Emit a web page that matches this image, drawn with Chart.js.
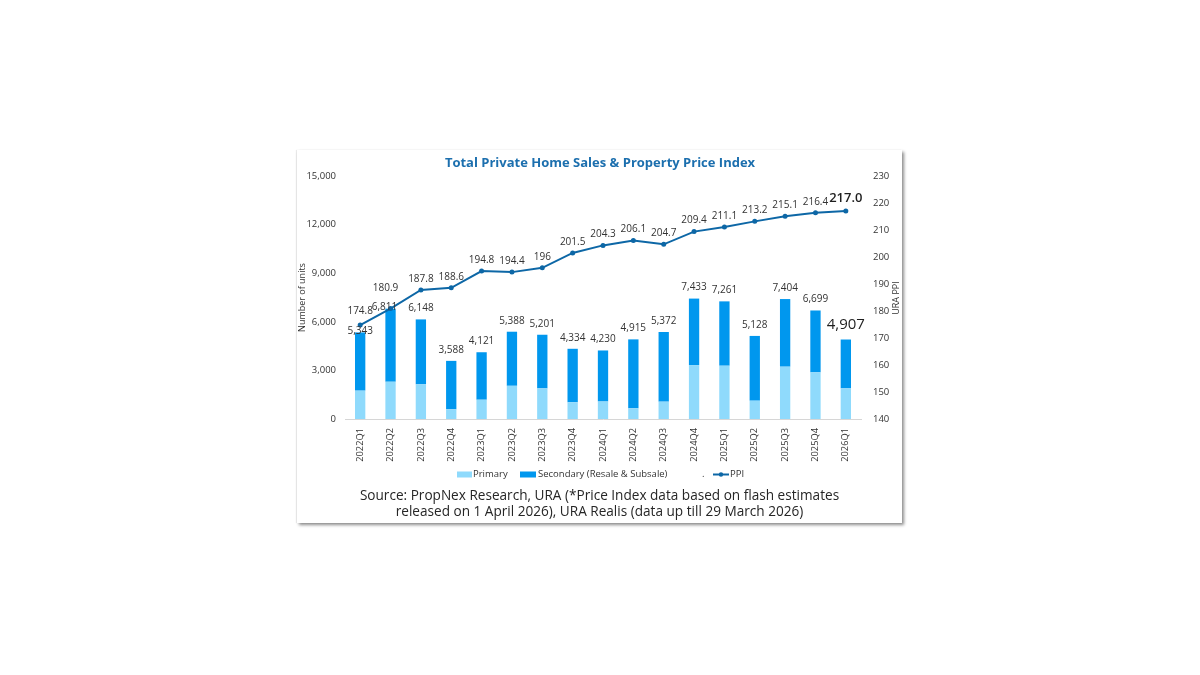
<!DOCTYPE html>
<html><head><meta charset="utf-8">
<script src="https://cdn.jsdelivr.net/npm/chart.js@4.4.1/dist/chart.umd.min.js"></script>
<style>
html,body{margin:0;padding:0;background:#fff;width:1200px;height:675px;overflow:hidden;}
#card{position:absolute;left:297px;top:150px;width:605px;height:373px;background:#fff;box-shadow:2px 2px 3px rgba(0,0,0,0.45), -1px 0 1px rgba(0,0,0,0.08);}
#c{position:absolute;left:0;top:0;}
#src{position:absolute;left:0;top:337px;width:605px;text-align:center;font-family:'Open Sans',sans-serif;font-size:13.6px;line-height:16px;color:#262626;}
</style></head><body>
<div id="card"><canvas id="c" width="605" height="373"></canvas>
<div id="src">Source: PropNex Research, URA (*Price Index data based on flash estimates<br>released on 1 April 2026), URA Realis (data up till 29 March 2026)</div></div>
<script>
const categories = ['2022Q1','2022Q2','2022Q3','2022Q4','2023Q1','2023Q2','2023Q3','2023Q4','2024Q1','2024Q2','2024Q3','2024Q4','2025Q1','2025Q2','2025Q3','2025Q4','2026Q1'];
const totalUnits = [5343,6811,6148,3588,4121,5388,5201,4334,4230,4915,5372,7433,7261,5128,7404,6699,4907];
const primaryUnits = [1750,2300,2140,600,1190,2050,1890,1030,1080,660,1070,3330,3290,1130,3230,2880,1890];
const secondaryUnits = [3593,4511,4008,2988,2931,3338,3311,3304,3150,4255,4302,4103,3971,3998,4174,3819,3017];
const ppi = [174.8,180.9,187.8,188.6,194.8,194.4,196,201.5,204.3,206.1,204.7,209.4,211.1,213.2,215.1,216.4,217.0];
const ppiText = ['174.8','180.9','187.8','188.6','194.8','194.4','196','201.5','204.3','206.1','204.7','209.4','211.1','213.2','215.1','216.4','217.0'];
const unitTicks = {min:0,max:15000,step:3000};
const ppiTicks = {min:140,max:230,step:10};

const FONT = "'Open Sans', sans-serif";
const C_PRI = '#8fdafc', C_SEC = '#0097ee', C_LINE = '#0d67a6';

const overlay = {
  id:'overlay',
  afterDatasetsDraw(chart){
    const ctx = chart.ctx, xs = chart.scales.x, ys = chart.scales.y, ys1 = chart.scales.y1;
    const n = categories.length;
    ctx.save();
    ctx.textAlign='center'; ctx.textBaseline='middle';
    for(let i=0;i<n;i++){
      const x = xs.getPixelForValue(i);
      let ty = ys.getPixelForValue(totalUnits[i]);
      let dx = 0, off = 11;
      if(i===0){off=1;}
      if(i===1){off=2;dx=-6;}
      if(i===n-1){
        ctx.font = "500 15px "+FONT; ctx.fillStyle='#1e1e1e'; off=15;
      } else { ctx.font = "10px "+FONT; ctx.fillStyle='#333'; }
      ctx.fillText(totalUnits[i].toLocaleString('en-US'), x+dx, ty-off);
      let py = ys1.getPixelForValue(ppi[i]);
      let poff = 11;
      if(i===0) poff=14;
      if(i===1) poff=20;
      if(i===n-1){ ctx.font="600 13px "+FONT; ctx.fillStyle='#1e1e1e'; poff=13; }
      else { ctx.font="10px "+FONT; ctx.fillStyle='#333'; }
      ctx.fillText(ppiText[i], x+(i===1?-5:0), py-poff);
    }
    ctx.restore();
  },
  afterDraw(chart){
    const ctx = chart.ctx;
    ctx.save();
    ctx.font = "bold 13px "+FONT; ctx.fillStyle='#1c6fae';
    ctx.textAlign='center'; ctx.textBaseline='middle';
    ctx.fillText('Total Private Home Sales & Property Price Index', 303, 13);
    // right axis title, reading bottom to top
    ctx.save();
    ctx.translate(599, 148); ctx.rotate(-Math.PI/2);
    ctx.font = "9px "+FONT; ctx.fillStyle='#333';
    ctx.fillText('URA PPI', 0, 0);
    ctx.restore();
    // legend
    const ly = 324.5;
    ctx.font = "9.5px "+FONT; ctx.textAlign='left';
    ctx.fillStyle=C_PRI; ctx.fillRect(160,ly-3,15,6);
    ctx.fillStyle='#333'; ctx.fillText('Primary',176,ly);
    ctx.fillStyle=C_SEC; ctx.fillRect(223,ly-3,16,6);
    ctx.fillStyle='#333'; ctx.fillText('Secondary (Resale & Subsale)',241,ly);
    ctx.fillText('.',405,ly);
    ctx.strokeStyle=C_LINE; ctx.lineWidth=2;
    ctx.beginPath(); ctx.moveTo(416,ly); ctx.lineTo(432,ly); ctx.stroke();
    ctx.fillStyle=C_LINE; ctx.beginPath(); ctx.arc(424,ly,2.2,0,Math.PI*2); ctx.fill();
    ctx.fillStyle='#333'; ctx.fillText('PPI',433,ly);
    ctx.restore();
  }
};

new Chart(document.getElementById('c'), {
  data:{
    labels: categories,
    datasets:[
      {type:'line', label:'PPI', data:ppi, yAxisID:'y1', borderColor:C_LINE, backgroundColor:C_LINE, borderWidth:2, pointRadius:2.5, pointBackgroundColor:C_LINE, pointBorderWidth:0, tension:0, order:0},
      {type:'bar', label:'Primary', data:primaryUnits, yAxisID:'y', backgroundColor:C_PRI, stack:'s', barPercentage:0.68, categoryPercentage:0.5, order:1},
      {type:'bar', label:'Secondary (Resale & Subsale)', data:secondaryUnits, yAxisID:'y', backgroundColor:C_SEC, stack:'s', barPercentage:0.68, categoryPercentage:0.5, order:1}
    ]
  },
  options:{
    responsive:false, animation:false, devicePixelRatio:1,
    layout:{padding:{top:26,bottom:54,left:0,right:0}},
    plugins:{legend:{display:false}, tooltip:{enabled:false}, title:{display:false}},
    scales:{
      x:{stacked:true, grid:{display:false, drawTicks:false}, border:{display:true,color:'#d6d6d6',width:1},
         ticks:{minRotation:90,maxRotation:90,padding:9,color:'#333',font:{family:FONT,size:9.3}},
         afterFit(s){s.height=50;}},
      y:{position:'left', stacked:true, min:unitTicks.min, max:unitTicks.max,
         grid:{display:false, drawTicks:false}, border:{display:false},
         ticks:{stepSize:unitTicks.step, padding:9, color:'#333', font:{family:FONT,size:9.5},
                callback:v=>v.toLocaleString('en-US')},
         title:{display:true,text:'Number of units',color:'#333',font:{family:FONT,size:9},padding:{top:0,bottom:0}},
         afterFit(s){s.width=48;}},
      y1:{position:'right', min:ppiTicks.min, max:ppiTicks.max,
         grid:{display:false, drawTicks:false}, border:{display:false},
         ticks:{stepSize:ppiTicks.step, padding:12, color:'#333', font:{family:FONT,size:9.5}},
         afterFit(s){s.width=41;}}
    }
  },
  plugins:[overlay]
});
</script>
</body></html>
